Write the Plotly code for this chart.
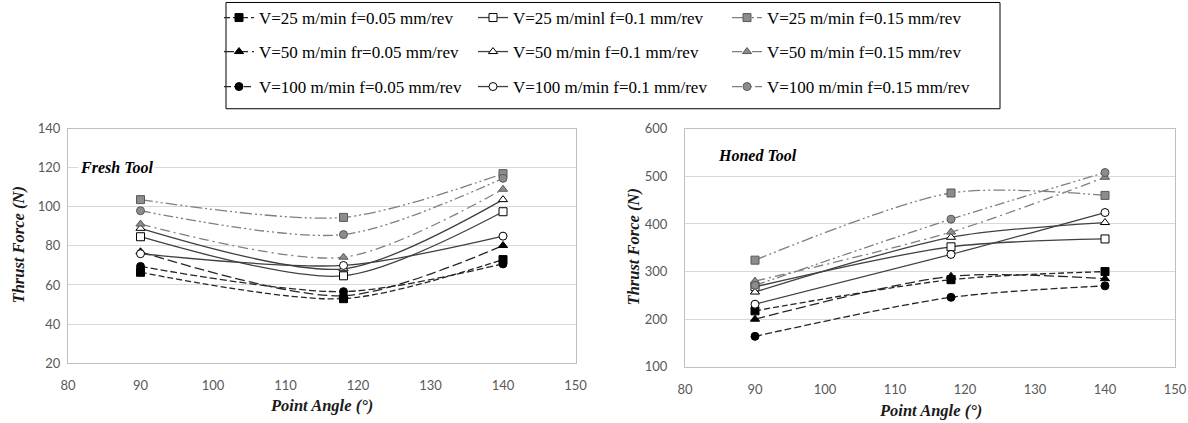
import plotly.graph_objects as go

W, H = 1188, 423

# ---------------- data ----------------
angles = [90, 118, 140]

series_names = [
    "V=25 m/min f=0.05 mm/rev", "V=25 m/minl f=0.1 mm/rev", "V=25 m/min f=0.15 mm/rev",
    "V=50 m/min fr=0.05 mm/rev", "V=50 m/min f=0.1 mm/rev", "V=50 m/min f=0.15 mm/rev",
    "V=100 m/min f=0.05 mm/rev", "V=100 m/min f=0.1 mm/rev", "V=100 m/min f=0.15 mm/rev",
]

# Fresh tool thrust force (N)
fresh_v25_f005 = [66.5, 53.0, 73.0]
fresh_v25_f010 = [84.7, 64.7, 97.5]
fresh_v25_f015 = [103.7, 94.6, 117.0]
fresh_v50_f005 = [77.0, 54.5, 80.2]
fresh_v50_f010 = [89.0, 68.3, 103.7]
fresh_v50_f015 = [91.2, 74.2, 109.0]
fresh_v100_f005 = [69.5, 56.6, 70.8]
fresh_v100_f010 = [76.0, 70.0, 85.0]
fresh_v100_f015 = [98.0, 85.8, 114.6]

# Honed tool thrust force (N)
honed_v25_f005 = [217.5, 283.0, 300.0]
honed_v25_f010 = [268.0, 352.0, 368.5]
honed_v25_f015 = [324.0, 465.0, 460.0]
honed_v50_f005 = [200.0, 290.0, 285.0]
honed_v50_f010 = [257.0, 372.0, 403.0]
honed_v50_f015 = [280.0, 383.0, 498.0]
honed_v100_f005 = [164.0, 246.0, 270.0]
honed_v100_f010 = [231.5, 336.0, 424.0]
honed_v100_f015 = [271.0, 410.0, 508.0]

fresh = [fresh_v25_f005, fresh_v25_f010, fresh_v25_f015,
         fresh_v50_f005, fresh_v50_f010, fresh_v50_f015,
         fresh_v100_f005, fresh_v100_f010, fresh_v100_f015]
honed = [honed_v25_f005, honed_v25_f010, honed_v25_f015,
         honed_v50_f005, honed_v50_f010, honed_v50_f015,
         honed_v100_f005, honed_v100_f010, honed_v100_f015]

x_ticks = [80, 90, 100, 110, 120, 130, 140, 150]
fresh_y_ticks = [20, 40, 60, 80, 100, 120, 140]
honed_y_ticks = [100, 200, 300, 400, 500, 600]

# ---------------- styles ----------------
symbols = ["square", "square", "square",
           "triangle-up", "triangle-up", "triangle-up",
           "circle", "circle", "circle"]
fills = ["#000000", "#ffffff", "#8c8c8c"] * 3
mlines = ["#000000", "#000000", "#595959"] * 3
lcolors = ["#262626", "#404040", "#7f7f7f"] * 3
dashes = [
    "6px,3px", "solid", "12px,3px,2px,3px,2px,3px",
    "10px,4px", "solid", "10px,4px,2px,4px",
    "7px,3px", "solid", "10px,3px,2px,3px,2px,3px",
]
legend_ids = ["legend", "legend", "legend",
              "legend2", "legend2", "legend2",
              "legend3", "legend3", "legend3"]

fig = go.Figure()

for panel, data, xa, ya, show in [("fresh", fresh, "x", "y", True),
                                  ("honed", honed, "x2", "y2", False)]:
    for i, name in enumerate(series_names):
        fig.add_trace(go.Scatter(
            x=angles, y=data[i], name=name, legend=legend_ids[i],
            xaxis=xa, yaxis=ya, showlegend=show,
            mode="lines+markers",
            line=dict(color=lcolors[i], width=1.3, dash=dashes[i], shape="spline", smoothing=0.8),
            marker=dict(symbol=symbols[i], size=8, color=fills[i],
                        line=dict(color=mlines[i], width=1)),
        ))

# ---------------- layout ----------------
def px_x(p):
    return p / W

def px_y(p):
    return 1 - p / H

tick_font = dict(family="Lato, Carlito, Calibri, sans-serif", size=13, color="#595959")
axis_common = dict(showline=True, linecolor="#bfbfbf", linewidth=1, mirror=True,
                   zeroline=False, ticks="", tickfont=tick_font, automargin=False)

legend_common = dict(
    orientation="h", xanchor="left", yanchor="middle",
    entrywidth=209, entrywidthmode="pixels", itemwidth=30,
    bgcolor="rgba(0,0,0,0)", borderwidth=0,
    font=dict(family="Liberation Serif, Times New Roman, serif", size=17, color="#000000"),
    traceorder="normal", itemclick=False, itemdoubleclick=False,
)
leg_x = px_x(219)

fig.update_layout(
    width=W, height=H,
    margin=dict(l=0, r=0, t=0, b=0),
    paper_bgcolor="white", plot_bgcolor="white",
    showlegend=True,
    xaxis=dict(domain=[px_x(68), px_x(575.5)], range=[80, 150], tickvals=x_ticks,
               showgrid=False, anchor="y", ticklabelstandoff=10, **axis_common),
    yaxis=dict(domain=[px_y(363), px_y(128)], range=[20, 140], tickvals=fresh_y_ticks,
               showgrid=True, gridcolor="#d9d9d9", anchor="x", ticklabelstandoff=4,
               **axis_common),
    xaxis2=dict(domain=[px_x(685), px_x(1175)], range=[80, 150], tickvals=x_ticks,
                showgrid=False, anchor="y2", ticklabelstandoff=11, **axis_common),
    yaxis2=dict(domain=[px_y(366.7), px_y(128)], range=[100, 600], tickvals=honed_y_ticks,
                showgrid=True, gridcolor="#d9d9d9", anchor="x2", ticklabelstandoff=14,
                **axis_common),
    legend=dict(x=leg_x, y=px_y(17), **legend_common),
    legend2=dict(x=leg_x, y=px_y(52), **legend_common),
    legend3=dict(x=leg_x, y=px_y(87), **legend_common),
    shapes=[dict(type="rect", xref="paper", yref="paper",
                 x0=px_x(226), x1=px_x(1000), y0=px_y(108), y1=px_y(1.5),
                 line=dict(color="#000000", width=1), fillcolor="rgba(0,0,0,0)", layer="below")],
)

title_font = dict(family="Liberation Serif, Times New Roman, serif", size=16.5, color="#1a1a1a")
label_font = dict(family="Liberation Serif, Times New Roman, serif", size=16, color="#000000")

annotations = [
    dict(text="<b><i>Point Angle (°)</i></b>", x=px_x(321), y=px_y(405), xref="paper", yref="paper",
         showarrow=False, font=title_font, xanchor="center", yanchor="middle"),
    dict(text="<b><i>Point Angle (°)</i></b>", x=px_x(930), y=px_y(410), xref="paper", yref="paper",
         showarrow=False, font=title_font, xanchor="center", yanchor="middle"),
    dict(text="<b><i>Thrust Force (N)</i></b>", x=px_x(18), y=px_y(245), xref="paper", yref="paper",
         showarrow=False, font=title_font, textangle=-90, xanchor="center", yanchor="middle"),
    dict(text="<b><i>Thrust Force (N)</i></b>", x=px_x(633), y=px_y(247), xref="paper", yref="paper",
         showarrow=False, font=title_font, textangle=-90, xanchor="center", yanchor="middle"),
    dict(text="<b><i>Fresh Tool</i></b>", x=px_x(116), y=px_y(167), xref="paper", yref="paper",
         showarrow=False, font=label_font, bgcolor="white", xanchor="center", yanchor="middle"),
    dict(text="<b><i>Honed Tool</i></b>", x=px_x(757), y=px_y(155), xref="paper", yref="paper",
         showarrow=False, font=label_font, xanchor="center", yanchor="middle"),
]
fig.update_layout(annotations=annotations)

fig.write_html("out.html",
               config={"displayModeBar": False, "staticPlot": True},
               post_script="document.body.style.margin='0px';document.body.style.overflow='hidden';")
